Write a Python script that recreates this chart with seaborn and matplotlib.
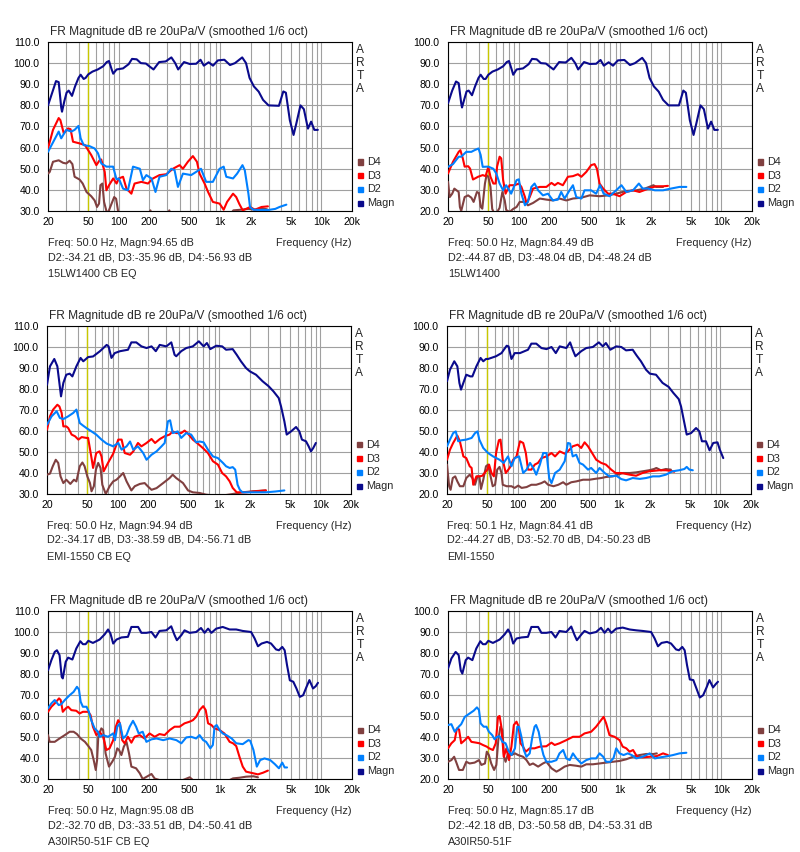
import matplotlib
matplotlib.use('Agg')
import matplotlib.pyplot as plt
from matplotlib.patches import Rectangle
from matplotlib.ticker import NullFormatter
import pandas as pd
import seaborn as sns

# Estilo
sns.set_style('white')
plt.rcParams['font.family'] = ['Liberation Sans', 'DejaVu Sans']

# ---------------- datos: (frecuencia Hz, dB) ----------------
# 15LW1400 CB EQ
lw_eq_magn = [(20, 80), (22, 86), (24, 91.5), (25.5, 91), (27, 79), (27.5, 77), (29, 82), (30.5, 86), (32, 87), (34.5, 84.5),
              (37, 89), (40, 93), (42, 94.5), (45, 92.5), (47, 93), (50, 94.7), (55, 96), (62, 97), (70, 98.5), (76, 100.5),
              (80, 101), (85, 97), (88, 95), (95, 97), (110, 97.5), (125, 99.5), (135, 102), (150, 101.8), (165, 100), (185, 99.8),
              (200, 98.5), (220, 97), (250, 100.5), (290, 100.8), (330, 102.7), (360, 100), (385, 97), (440, 100.5), (500, 99.6),
              (580, 99.7), (640, 101.6), (690, 98.8), (770, 100.4), (850, 98.8), (950, 101.3), (1100, 101.6), (1250, 99.1),
              (1400, 100), (1650, 102.7), (1800, 100), (1950, 93), (2150, 89), (2400, 86.5), (2650, 82.6), (3000, 80), (3800, 79.8),
              (4200, 86.6), (4450, 86), (4870, 73), (5300, 66), (5650, 71.5), (6200, 80), (6700, 78.2), (7350, 69), (7900, 72.3),
              (8500, 68.4), (9200, 68.4)]
lw_eq_d2 = [(20, 58), (25.5, 67.6), (27, 64.4), (30.3, 68.4), (34, 67.6), (36.6, 68.4), (40, 70.3), (42, 64.4), (45, 61.2),
            (51.4, 60.7), (57.7, 59.6), (62.3, 57.3), (67.2, 52.5), (75.4, 51), (87.8, 51), (94.8, 45), (100, 45.4), (110, 40.6),
            (123, 39.8), (138, 51), (161, 50), (173, 44.6), (187, 47), (210, 45.4), (230, 39), (252, 46.2), (294, 47), (329, 50),
            (355, 49.3), (383, 41.4), (429, 47.7), (517, 47), (579, 48.5), (647, 50), (727, 43.8), (847, 43.8), (987, 50),
            (1083, 51), (1150, 46.2), (1340, 45.4), (1470, 47.7), (1660, 51.7), (1750, 49.3), (1900, 38.2), (1970, 31.9),
            (2130, 30.6), (2500, 30.5), (3000, 30.5), (3500, 31), (3850, 31.9), (4500, 33)]
lw_eq_d3 = [(20, 59.6), (22.4, 68.4), (25.5, 74), (26.5, 73), (28.6, 66.8), (31.6, 69.1), (33.4, 68.7), (35.3, 62.8), (41, 62),
            (46.3, 61.2), (49.8, 58.8), (53.4, 56.5), (60, 51.7), (64.6, 54), (67, 54.4), (72.6, 48.5), (75.4, 39.8), (80, 42.2),
            (88, 45.4), (95, 43), (100, 45.4), (110, 46.2), (119, 40.6), (133, 38.2), (143, 43), (167, 43.8), (194, 43),
            (217, 45.4), (252, 47), (294, 47.4), (342, 50), (398, 51.7), (429, 50), (480, 53.3), (538, 56), (590, 53.3),
            (626, 47.7), (702, 43), (760, 39), (847, 34.3), (987, 33.5), (1083, 30.6), (1170, 34.3), (1340, 38.2), (1440, 36.6),
            (1550, 33.2), (1670, 30.3), (1980, 31.9), (2200, 30.6), (2560, 31.9), (2960, 32.2)]
lw_eq_d4 = [(20, 47.7), (20.8, 48.5), (22.4, 53.3), (25.5, 54), (28.2, 52.8), (30.3, 52.5), (32.7, 53.8), (34.8, 52.2),
            (36.6, 46.2), (41, 44.9), (44, 43), (48, 39), (53.4, 37), (57.7, 35), (60.9, 31.9), (63.8, 33.5), (65.8, 42.2),
            (68.8, 43), (71.5, 34.3), (75.4, 30), (78, 29), (84, 33), (90, 36.6), (94, 35.8), (99, 29), (105, 26), (150, 25),
            (195, 28), (205, 30.3), (215, 27), (300, 28), (315, 30.3), (330, 27), (1200, 27), (1350, 30.3), (1600, 30.6),
            (1900, 31), (2200, 30.6), (2600, 31.2), (2900, 30.8)]

# 15LW1400
lw_magn = [(20, 71), (22, 77), (24, 81.3), (25.5, 80.5), (27, 71), (27.5, 69), (29, 73), (30.5, 76.6), (32, 77), (34.5, 74.8),
           (37, 79), (40, 83), (42, 84.5), (45, 82.5), (47, 82.5), (50, 84.5), (55, 86), (62, 87), (70, 88.5), (76, 90.5),
           (80, 91), (85, 87), (88, 84.5), (95, 87), (110, 87.5), (125, 89.5), (135, 92), (150, 91.8), (165, 90), (185, 89.8),
           (200, 88.5), (220, 87), (250, 90.5), (290, 90.3), (330, 92.5), (360, 90), (385, 87), (440, 90.5), (500, 89.6),
           (580, 89.7), (640, 91.5), (690, 88.8), (770, 90.4), (850, 88.8), (950, 91.3), (1100, 91.5), (1250, 89.1), (1400, 90),
           (1650, 92.5), (1800, 90), (1950, 83), (2150, 79), (2400, 76.5), (2650, 72.6), (3000, 70), (3800, 70), (4200, 77),
           (4450, 76), (4870, 63), (5300, 56), (5650, 61.5), (6200, 70), (6700, 68.2), (7350, 59), (7900, 62.3), (8500, 58.4),
           (9200, 58.4)]
lw_d2 = [(20, 40.9), (22.4, 42.2), (25.5, 45.7), (27, 45.7), (30.3, 48), (34, 48), (36.6, 48.8), (40, 49.6), (42, 46.5),
         (44, 40.9), (50, 41), (56, 40), (60, 37.7), (64.6, 33), (70, 29.8), (75, 32.2), (84, 28.2), (95, 34.6), (100, 35),
         (106, 28.2), (115, 22.7), (123, 24.3), (133, 31.4), (143, 33), (155, 29.8), (173, 27.4), (194, 28.2), (217, 25),
         (243, 25.4), (262, 29), (283, 25.9), (317, 29.8), (342, 32.2), (369, 26.6), (414, 25.9), (445, 29.8), (517, 29.8),
         (579, 28.2), (634, 32.2), (687, 28.2), (785, 27), (914, 29.8), (1030, 32.2), (1150, 29), (1340, 29.8), (1530, 33),
         (1670, 30.6), (1900, 30.6), (2200, 29.8), (2650, 29.8), (3160, 30.6), (3850, 31.4), (4500, 31.4)]
lw_d3 = [(20, 37.7), (22.4, 43.3), (25.5, 48), (26.5, 48.8), (28, 44.9), (29.2, 41), (31.6, 41.2), (33, 40.1), (35.3, 34.9),
         (39.6, 36.2), (44, 37), (47, 36.5), (50, 40.9), (52.5, 36.2), (56, 33), (59, 33), (61, 41), (64.6, 45.7), (67, 44.9),
         (70, 34.6), (74, 28.2), (81, 32.2), (91, 32.2), (100, 33), (106, 31.4), (115, 26.6), (119, 23.5), (128, 26.6),
         (138, 30.6), (161, 31.4), (187, 31.4), (210, 33.3), (226, 32.2), (243, 33.3), (272, 32.2), (305, 36.2), (342, 36.5),
         (383, 37.4), (414, 36.2), (463, 38.5), (517, 41.7), (559, 42.2), (590, 40), (626, 33), (680, 30.6), (760, 28.2),
         (847, 28.2), (987, 27), (1150, 29), (1340, 29.8), (1550, 29), (1900, 30.6), (2260, 31.7), (2650, 31.7), (2960, 31.9)]
lw_d4 = [(20, 33.8), (20.8, 26.6), (22, 28.2), (23.1, 30.6), (25.5, 29), (26.2, 21.9), (27, 20), (29.2, 26.6), (31.6, 27.4),
         (34, 26.3), (35.8, 24.3), (38.6, 29), (40.4, 28.5), (42, 22), (43.6, 21.1), (46.3, 33), (48, 37), (50, 36.2),
         (52.5, 31.4), (54.6, 21), (57, 19), (60, 19), (64.6, 21.5), (68.8, 29), (72.6, 25), (75, 20.5), (81, 19.5), (88, 21),
         (95, 21.9), (102, 24.3), (115, 24.3), (123, 22.7), (138, 23.8), (161, 25.9), (187, 25.4), (217, 25), (252, 25.9),
         (294, 25), (342, 25.9), (414, 26.3), (500, 27.4), (626, 27), (760, 27.4), (914, 28.2), (1150, 29.5), (1440, 29.8),
         (1750, 30.6), (2130, 32.2), (2260, 31.4), (2650, 31.4)]

# EMI-1550 CB EQ
emi_eq_magn = [(20, 82), (21.4, 90.8), (23.6, 94.3), (25.3, 90.8), (26.5, 82.9), (27.5, 76.5), (29, 82.9), (31, 86.8),
               (33.5, 87.3), (35.6, 86), (39, 90.8), (42.9, 94.8), (45.6, 93.2), (48.5, 94.3), (50.9, 95.2), (57, 95.5),
               (66.6, 98), (77.6, 101), (81, 100.3), (86.5, 94.8), (93.2, 97.1), (105, 98), (126, 98.7), (136, 102.2),
               (152, 102.2), (171, 100.3), (192, 99.5), (215, 100.3), (237, 98), (259, 101), (301, 100.3), (337, 102.2),
               (363, 96.3), (377, 95.6), (422, 98), (473, 99.5), (550, 100.3), (630, 102.7), (703, 100.3), (757, 101.9),
               (817, 99), (937, 100.6), (1070, 100.3), (1170, 98.7), (1360, 99), (1490, 96.3), (1640, 93.2), (1840, 90),
               (2010, 88.4), (2310, 86.8), (2680, 83.7), (3080, 81.3), (3430, 78.9), (3870, 75.7), (4080, 71.7), (4400, 64.6),
               (4640, 58.3), (5120, 59.8), (5740, 61.9), (6190, 59.8), (6560, 55.9), (7190, 55.1), (7640, 52.7), (8050, 50.3),
               (8480, 51.9), (9000, 54.3)]
emi_eq_d2 = [(20, 63), (22.2, 67), (24.9, 69.4), (26.8, 66.2), (29, 65.7), (32.4, 67), (36.3, 68.6), (39, 70.2), (42.1, 63.8),
             (45.6, 62.5), (49, 61.4), (55, 59.8), (61.2, 58.3), (69, 55.9), (77.6, 54), (90, 52.7), (101, 54.3), (109, 51.1),
             (122, 52.7), (132, 55), (142, 51.1), (158, 52.7), (178, 49.5), (192, 46.3), (215, 48.7), (241, 50.3), (270, 52.7),
             (290, 54.3), (312, 64.6), (328, 65.1), (348, 59), (390, 59.8), (422, 56.7), (473, 59), (529, 58.3), (594, 54.6),
             (640, 55), (703, 54.6), (775, 51.1), (868, 47.9), (972, 47.1), (1090, 44.8), (1170, 43.2), (1270, 42.4),
             (1360, 42.8), (1440, 41.6), (1520, 34.4), (1600, 32), (1700, 30.8), (2150, 30.8), (2890, 30.8), (3600, 31.2),
             (4400, 31.7)]
emi_eq_d3 = [(20, 60.6), (21.4, 67), (23, 70.2), (25.3, 72.5), (26.5, 71.7), (27.9, 68.6), (29, 62.2), (31, 62.2), (32.4, 61.4),
             (35, 58.3), (37.8, 57.5), (40.8, 55.9), (44, 57.1), (49, 56.7), (50.9, 56.7), (55, 47.1), (57, 42.4), (61.2, 49.5),
             (66, 50.3), (69, 47.9), (72.5, 40.8), (80, 44.8), (90, 49.2), (101, 55.9), (109, 55.9), (117, 49.5), (132, 48.7),
             (142, 50.3), (158, 54.3), (171, 52.7), (192, 54.3), (215, 56.2), (233, 54.3), (260, 56.2), (290, 57.5),
             (324, 58.3), (348, 59.8), (377, 59), (422, 59), (456, 60.2), (493, 58.7), (550, 55.9), (615, 54), (690, 51.9),
             (775, 49.5), (868, 45.6), (972, 44), (1070, 40), (1170, 38.4), (1270, 36), (1360, 32.9), (1490, 30.8),
             (1840, 30.8), (2310, 31.3), (2890, 31.7)]
emi_eq_d4 = [(20, 39.2), (21.4, 39.7), (22.8, 43.2), (24.4, 46.3), (25.8, 44.8), (27.2, 38.4), (29, 35.2), (31, 36.8),
             (34, 34.8), (36.9, 36.8), (39, 36), (42.1, 43.2), (44.7, 45), (47, 43.2), (50, 38.4), (53.1, 35.2), (55, 31.3),
             (58, 33.7), (60.8, 41.6), (64, 44.8), (67.5, 42.4), (70.3, 34.4), (76, 30), (83, 33.7), (90, 36), (97, 36.8),
             (105, 38.4), (113, 40), (122, 36), (136, 31.7), (147, 33.7), (165, 34.8), (184, 35.2), (199, 33.5), (215, 32),
             (241, 32.8), (280, 35.2), (324, 37.6), (348, 39.2), (377, 37.6), (440, 35.2), (493, 31.7), (550, 30.8),
             (640, 30.5), (740, 29.7), (1000, 29), (1360, 30), (1700, 30.8), (2150, 31.3), (2890, 31.7)]

# EMI-1550
emi_magn = [(20, 73.7), (21.4, 79.2), (23.6, 83.2), (25.3, 80.8), (26.5, 72.9), (27.5, 69.7), (29, 72.9), (31, 76.8), (34, 76),
            (35.6, 76), (39, 80.8), (42.9, 84.8), (45.6, 83.2), (48.5, 84.3), (50.9, 84.3), (61, 85.6), (69, 87.1), (77.6, 90.6),
            (81, 90.3), (86.5, 84.3), (93.2, 87.1), (105, 87.1), (126, 88.7), (136, 91.6), (152, 91.6), (171, 89.5), (192, 89),
            (215, 90), (237, 87.1), (259, 90.3), (301, 89.5), (328, 92.2), (348, 88.7), (370, 85.6), (422, 88), (473, 89.5),
            (550, 90), (630, 92.2), (690, 90.3), (740, 91.9), (817, 88.7), (937, 90.3), (1050, 90), (1170, 88.4), (1360, 88.7),
            (1490, 85.9), (1640, 83.2), (1840, 79.2), (2010, 77.3), (2310, 76.8), (2680, 72.9), (3080, 71), (3430, 68.1),
            (3870, 65.2), (4080, 61.7), (4400, 53.8), (4640, 48.3), (5120, 49), (5740, 51.4), (6190, 49.8), (6560, 45.1),
            (7190, 45.1), (7800, 40.8), (8480, 44.3), (9340, 44.6), (9850, 41.1), (10650, 37.1)]
emi_d2 = [(20, 42.7), (21.4, 45.9), (23, 49), (24.4, 49.8), (25.8, 45.1), (27.9, 45.6), (31, 45.9), (35, 46.7), (37.8, 49),
          (40, 49.8), (41.7, 45.9), (45.6, 41.9), (50.9, 39.5), (57, 37.9), (66, 36.3), (72.5, 34.8), (80, 37.9), (86.5, 33.2),
          (93, 37.1), (103, 37.9), (113, 30), (122, 31.6), (132, 34.8), (142, 32.4), (152, 29.2), (165, 34), (178, 39.5),
          (192, 39.5), (204, 27.6), (215, 25.2), (233, 30), (259, 31.6), (290, 35.6), (312, 44.3), (328, 44), (348, 37.9),
          (377, 38.7), (406, 34.8), (440, 34), (493, 31.6), (529, 32.4), (594, 30), (640, 32.4), (720, 30), (800, 28.4),
          (937, 28.7), (1050, 27.1), (1170, 26.5), (1360, 27.6), (1600, 27.2), (1840, 27.6), (2150, 28.4), (2490, 28.4),
          (2890, 29.2), (3360, 30.8), (3900, 31.3), (4400, 31.9), (4640, 32.9), (4930, 31.6), (5330, 31.3)]
emi_d3 = [(20, 36.3), (21.4, 41.1), (23, 44.3), (25.3, 47.8), (26.8, 45.1), (29, 37.9), (31, 37.1), (33.5, 33.2), (35, 32.4),
          (36.3, 24.4), (39, 28.4), (42.1, 28.4), (44.7, 28.7), (47, 30), (50, 31.6), (52, 34), (55, 30), (58, 28.4), (61, 39.5),
          (65, 45.6), (67.5, 45.9), (71, 36.3), (76, 30), (83, 32.4), (90, 36.3), (97, 37.9), (105, 45.1), (113, 44.3),
          (120, 39.5), (126, 31.6), (136, 31.6), (147, 34), (158, 34.8), (171, 37.1), (192, 37.9), (215, 39.5), (233, 37.9),
          (259, 40.3), (290, 39.2), (312, 40.3), (348, 42.7), (390, 43.5), (422, 41.9), (456, 44.6), (493, 42.7), (529, 40.3),
          (594, 36.3), (665, 34.8), (740, 34), (835, 31.6), (922, 30), (1050, 30), (1270, 29.2), (1470, 28.7), (1700, 30),
          (1970, 30.8), (2490, 31.3), (2890, 31.3), (3240, 31), (3500, 30.6)]
emi_d4 = [(20, 34), (21, 23.7), (21.7, 22), (22.8, 27.6), (24.1, 28.4), (25.3, 26), (26.8, 23.7), (29, 23.7), (31, 27.6),
          (33.5, 29.2), (35.6, 27.6), (37.8, 24.4), (40, 28.4), (41.7, 28.4), (43.3, 22.4), (45.6, 26.8), (48.5, 33.2),
          (50.9, 34), (53, 30), (56.5, 23.7), (59.6, 24.4), (62.6, 31.6), (66, 32.9), (69, 30), (71, 24.4), (77.6, 23.7),
          (86.5, 23.7), (93, 22.9), (101, 24), (109, 22.9), (122, 23.3), (136, 24.4), (152, 24.4), (171, 25.2), (184, 26),
          (199, 24.4), (225, 23.7), (251, 24.4), (280, 25.6), (301, 24.4), (337, 25.6), (377, 26), (440, 26.8), (510, 26.8),
          (594, 27.3), (665, 27.6), (740, 28.1), (868, 28.4), (972, 29.2), (1090, 30), (1270, 30), (1470, 30.3), (1700, 30.8),
          (1970, 31.3), (2210, 31.9), (2330, 32.4), (2580, 31.3), (2890, 31.9), (3240, 31.6)]

# A30IR50-51F CB EQ
a30_eq_magn = [(20, 81.8), (21.6, 86.6), (23.3, 90.5), (24.5, 91.3), (26, 89), (27.3, 78.7), (28, 77.9), (29.9, 85.8),
               (31.6, 87.8), (34.8, 86.9), (38, 92.1), (41.7, 95.6), (44.2, 94.2), (47, 94.2), (50, 95.8), (55.5, 94.8),
               (64.6, 96.4), (72.6, 98.9), (78.3, 101.2), (82.6, 99.3), (88, 94.5), (94.8, 96.4), (106, 97.4), (123, 97.7),
               (133, 102.4), (155, 102.4), (167, 99.6), (187, 99.6), (210, 100), (230, 97.4), (252, 100.5), (294, 100.8),
               (329, 102.7), (355, 98.5), (374, 96.1), (414, 98.5), (445, 100.8), (500, 99.6), (579, 100), (647, 101.9),
               (702, 99.6), (760, 101.6), (820, 99.6), (914, 101.6), (1060, 102.4), (1240, 101.2), (1440, 101.2),
               (1670, 100.5), (2020, 100), (2190, 96.9), (2360, 93.2), (2560, 94.5), (2900, 95.3), (3180, 94.5), (3560, 91.7),
               (3800, 91.3), (4100, 92.9), (4330, 91.3), (4570, 84.2), (4870, 77), (5270, 76.3), (5660, 73.1), (6110, 69.1),
               (6590, 69.9), (7120, 73.9), (7600, 77.1), (8250, 73.1), (8780, 74.2), (9230, 75.8)]
a30_eq_d2 = [(20, 63.6), (21.6, 66), (23.3, 67.6), (25.5, 65.2), (27, 65.6), (29.3, 67.6), (32.7, 69.9), (35.8, 71.5),
             (38.6, 73.9), (40.4, 72.6), (42, 66.8), (44.2, 64.4), (48, 64.4), (50.6, 62), (53.4, 58), (57.7, 54.1), (62.3, 52.5),
             (64.6, 50.1), (70, 50.9), (78.3, 50.1), (88, 51.7), (91.6, 48.5), (96.5, 54.9), (102.5, 56.5), (110, 49.3),
             (119, 50.9), (128, 54.9), (138, 57.7), (148, 54.9), (157, 51.7), (172, 52.5), (187, 47.7), (210, 48.9),
             (235, 49.3), (274, 48.5), (318, 49.3), (370, 48.5), (414, 47), (463, 49.8), (517, 50.1), (579, 49.3), (626, 50.9),
             (680, 48.5), (727, 47.7), (800, 44.6), (847, 46.2), (880, 54.9), (923, 55.7), (987, 53.3), (1060, 51.7),
             (1150, 50.9), (1300, 49.3), (1440, 47), (1670, 46.6), (1900, 48.5), (1980, 48.2), (2130, 43.8), (2300, 35.9),
             (2480, 39), (2740, 39.8), (3120, 39), (3460, 37.1), (3800, 35.1), (4100, 37.8), (4330, 35.5), (4570, 35.5)]
a30_eq_d3 = [(20, 62), (21.6, 64.4), (23.3, 66), (25.7, 68.4), (26.7, 67.6), (28, 62), (29.9, 63.6), (31.6, 64.4), (34, 62.8),
             (38, 62.5), (41, 61.2), (44.2, 62), (50, 62), (52.6, 60.4), (55.5, 54.9), (60, 50.9), (64.6, 52.5), (70, 50.1),
             (75.4, 43.8), (81, 44.6), (88, 48.5), (93.4, 54.9), (98.5, 58), (102.5, 56.5), (108, 48.5), (114, 47), (123, 50.1),
             (133, 47.3), (143, 50.1), (161, 50.9), (179, 49.3), (201, 51.7), (226, 50.1), (252, 51.4), (283, 50.9),
             (318, 53.3), (355, 54.9), (398, 54.9), (445, 56.5), (500, 57.3), (538, 58), (579, 59.6), (626, 62.8), (680, 64.7),
             (720, 62.8), (760, 56.5), (820, 55.7), (880, 54.1), (987, 53.3), (1100, 51.7), (1240, 47.7), (1340, 47),
             (1440, 45.7), (1550, 40.6), (1670, 35.9), (1800, 33.5), (2130, 32.7), (2360, 32.2), (2650, 33), (2960, 34)]
a30_eq_d4 = [(20, 50.9), (20.8, 47.7), (23.3, 47.7), (26, 49.3), (29.3, 50.9), (32.7, 52.5), (35.8, 52.5), (38.6, 51.4),
             (42, 49.3), (46.3, 47.7), (50, 45.7), (53.4, 43.8), (56.5, 39), (59.2, 34.3), (61, 39), (62.7, 50.1), (67.2, 54.1),
             (70, 53.3), (74, 42.2), (80, 35.9), (86, 38.2), (91.6, 40.6), (96.5, 44.6), (100.5, 43.8), (106, 41.4),
             (112, 45.4), (119, 47.7), (126, 42.2), (133, 35.9), (148, 35.1), (161, 32.7), (172, 30), (187, 31), (210, 32.4),
             (226, 30.2), (252, 29.5), (429, 29.5), (500, 30.8), (538, 29.5), (1240, 29.5), (1340, 30.3), (1550, 30.6),
             (1800, 31.1), (2130, 31.3), (2360, 30.8)]

# A30IR50-51F
a30_magn = [(20, 72.6), (21.6, 77.4), (23.8, 80.5), (25.5, 79), (26.7, 71.8), (27.7, 70.2), (29.9, 76.6), (31.6, 77.8),
            (34.8, 76.6), (38, 82.1), (41.7, 85.6), (44.2, 84.2), (47, 84.2), (50, 85.8), (55.5, 84.8), (64.6, 86.4),
            (72.6, 88.9), (78.3, 91.2), (82.6, 89.3), (88, 84.5), (94.8, 86.9), (106, 87.4), (123, 87.7), (133, 92.4),
            (155, 92.4), (167, 89.6), (187, 89.6), (210, 90), (230, 87.4), (252, 90.5), (294, 90), (329, 92.6), (355, 88.5),
            (374, 86.1), (414, 88.8), (445, 90.5), (500, 89.3), (579, 90), (647, 92), (702, 89.6), (760, 91.6), (820, 89.6),
            (914, 91.6), (1060, 92.1), (1240, 91.2), (1440, 90.8), (1670, 90.5), (2020, 90), (2190, 86.9), (2360, 83.2),
            (2560, 84.8), (2900, 85.3), (3180, 84.5), (3560, 81.7), (3800, 81.3), (4100, 82.9), (4330, 81.3), (4570, 74.2),
            (4870, 67.4), (5270, 67.1), (5660, 63.1), (6110, 58.8), (6590, 59.9), (7120, 63.6), (7600, 67.1), (8250, 63.6),
            (8780, 65.2), (9230, 66.3)]
a30_d2 = [(20, 45.7), (21.6, 46.1), (23.3, 42.5), (25.5, 44.9), (27, 46.1), (29.3, 49.6), (32.7, 51.2), (35.8, 52.5),
          (38.6, 54.1), (40.4, 52.9), (42, 46.5), (45, 44.9), (48, 44.9), (50.6, 42.5), (54.6, 40.9), (57.7, 38.9), (60.9, 40.1),
          (64.6, 40.4), (68.8, 37.7), (74, 37), (78.3, 33.8), (84.5, 31.4), (91.6, 34.6), (96.5, 44.9), (100.5, 44.9),
          (106, 40.1), (112, 33.8), (119, 30.6), (128, 32.2), (136, 40.1), (143, 44.9), (148, 45.7), (157, 42.5), (167, 35.4),
          (175, 31.4), (187, 28.2), (210, 28.2), (235, 29), (252, 32.2), (274, 33.8), (294, 29.8), (318, 29), (342, 32.2),
          (370, 29.8), (414, 27.4), (463, 29), (517, 29.8), (579, 29.8), (626, 32.2), (680, 30.6), (727, 28.2), (800, 28.2),
          (860, 30), (914, 34.6), (987, 32.2), (1080, 31.4), (1190, 32.2), (1300, 31.4), (1440, 29.8), (1670, 30.6),
          (1960, 32.2), (2200, 29.8), (2480, 30.3), (2900, 30.8), (3320, 31.4), (3850, 32.2), (4500, 32.5)]
a30_d3 = [(20, 34.6), (21.6, 37), (23.3, 38.5), (24.5, 44.1), (25.7, 43.6), (27, 37), (29.3, 38.5), (31.6, 40.1), (34, 37.7),
          (38, 37.3), (41, 37), (44.2, 36.2), (48.3, 35.4), (51, 34.6), (55.5, 33.8), (59.2, 37), (62.3, 49.6), (64.6, 50),
          (67.2, 44.9), (71, 30.6), (75.4, 34.6), (80, 29), (84.5, 35.4), (89.2, 45.7), (94.8, 47.3), (99.5, 45), (104, 37),
          (110, 35.4), (117, 33), (128, 34.6), (143, 34.6), (161, 35.4), (187, 35.6), (210, 37.3), (226, 36.2), (252, 37),
          (294, 38.5), (342, 40.1), (398, 40.1), (445, 41.7), (517, 42.5), (579, 44.9), (647, 48), (687, 49.6), (727, 46.5),
          (785, 40.9), (880, 40.1), (987, 38.5), (1060, 35.4), (1150, 34.6), (1240, 33), (1340, 33.8), (1470, 30.6),
          (1670, 30.3), (1960, 30.6), (2300, 30.9), (2650, 32.2), (2960, 31.4)]
a30_d4 = [(20, 28.2), (21.6, 29), (23, 30.6), (24.2, 27.8), (25.7, 24.3), (28, 24.3), (30.3, 28.2), (32.7, 27.4), (36.6, 27.8),
          (40.4, 29), (42.7, 26.7), (46.3, 27.4), (48.3, 33), (50.6, 31.4), (53.4, 27.4), (57, 24.3), (60, 26.7), (62.7, 38.5),
          (65.8, 44.9), (68.8, 43.3), (71.5, 30.6), (74, 28.2), (78.3, 32.2), (84.5, 31.4), (91.6, 32.2), (98.5, 31.4),
          (110, 30.6), (119, 29), (128, 26.7), (138, 27.4), (155, 25.9), (173, 27.4), (187, 28.2), (210, 25.1), (235, 23.5),
          (252, 24.3), (283, 25.9), (318, 26.7), (370, 26.3), (414, 25.9), (463, 27), (538, 27), (626, 27.4), (727, 27.8),
          (847, 28.2), (987, 28.6), (1150, 29.4), (1340, 30.6), (1550, 31.4), (1800, 31.9), (2130, 31.9), (2300, 32.2)]

# textos de cada panel
panel_names = ['15LW1400 CB EQ', '15LW1400', 'EMI-1550 CB EQ', 'EMI-1550', 'A30IR50-51F CB EQ', 'A30IR50-51F']
cursor_texts = ['Freq: 50.0 Hz, Magn:94.65 dB', 'Freq: 50.0 Hz, Magn:84.49 dB', 'Freq: 50.0 Hz, Magn:94.94 dB',
                'Freq: 50.1 Hz, Magn:84.41 dB', 'Freq: 50.0 Hz, Magn:95.08 dB', 'Freq: 50.0 Hz, Magn:85.17 dB']
dist_texts = ['D2:-34.21 dB, D3:-35.96 dB, D4:-56.93 dB', 'D2:-44.87 dB, D3:-48.04 dB, D4:-48.24 dB',
              'D2:-34.17 dB, D3:-38.59 dB, D4:-56.71 dB', 'D2:-44.27 dB, D3:-52.70 dB, D4:-50.23 dB',
              'D2:-32.70 dB, D3:-33.51 dB, D4:-50.41 dB', 'D2:-42.18 dB, D3:-50.58 dB, D4:-53.31 dB']
y_floors = [30, 20, 30, 20, 30, 20]
panel_series = [
    {'D4': lw_eq_d4, 'D3': lw_eq_d3, 'D2': lw_eq_d2, 'Magn': lw_eq_magn},
    {'D4': lw_d4, 'D3': lw_d3, 'D2': lw_d2, 'Magn': lw_magn},
    {'D4': emi_eq_d4, 'D3': emi_eq_d3, 'D2': emi_eq_d2, 'Magn': emi_eq_magn},
    {'D4': emi_d4, 'D3': emi_d3, 'D2': emi_d2, 'Magn': emi_magn},
    {'D4': a30_eq_d4, 'D3': a30_eq_d3, 'D2': a30_eq_d2, 'Magn': a30_eq_magn},
    {'D4': a30_d4, 'D3': a30_d3, 'D2': a30_d2, 'Magn': a30_magn},
]
title = 'FR Magnitude dB re 20uPa/V (smoothed 1/6 oct)'
x_ticks = [20, 50, 100, 200, 500, 1000, 2000, 5000, 10000, 20000]
x_labels = ['20', '50', '100', '200', '500', '1k', '2k', '5k', '10k', '20k']

# ---------------- estilo / layout ----------------
colors = {'D4': '#804040', 'D3': '#ff0000', 'D2': '#0080ff', 'Magn': '#0a0a8c'}
W, H = 800, 852
AX_W = 304
row_tops = [42, 326, 611]
row_heights = [169, 168, 168]
row_lefts = [48, 47, 48]
col_offsets = [0, 400]
grid_f = [k * 10 ** e for e in range(1, 5) for k in range(1, 10) if 20 <= k * 10 ** e <= 20000]


def fx(x):
    return x / W


def fy(y):
    return 1 - y / H


fig = plt.figure(figsize=(8, 8.52), dpi=100)
fig.patch.set_facecolor('white')


def draw_panel(i):
    row, col = divmod(i, 2)
    left = row_lefts[row] + col_offsets[col]
    top = row_tops[row]
    h = row_heights[row]
    bottom = top + h
    right = left + AX_W
    ax = fig.add_axes([fx(left), fy(bottom), AX_W / W, h / H])

    for name in ['D4', 'D3', 'D2', 'Magn']:
        df = pd.DataFrame(panel_series[i][name], columns=['freq', 'db'])
        sns.lineplot(data=df, x='freq', y='db', ax=ax, color=colors[name], linewidth=1.5,
                     estimator=None, sort=False, zorder=3)

    ax.axvline(50, color='#c8c800', linewidth=1, zorder=2)

    lo = y_floors[i]
    ax.set_xscale('log')
    ax.set_xlim(20, 20000)
    ax.set_ylim(lo, lo + 80)
    ax.set_xticks(x_ticks)
    ax.set_xticklabels(x_labels)
    ax.set_xticks(grid_f, minor=True)
    ax.xaxis.set_minor_formatter(NullFormatter())
    yt = list(range(lo, lo + 81, 10))
    ax.set_yticks(yt)
    ax.set_yticklabels([f'{v:.1f}' for v in yt])
    ax.set_xlabel('')
    ax.set_ylabel('')
    ax.set_axisbelow(True)
    ax.grid(which='both', axis='x', color='#a0a0a0', linewidth=0.8)
    ax.grid(which='major', axis='y', color='#a0a0a0', linewidth=0.8)
    ax.tick_params(which='both', length=0, labelsize=7.6, colors='black')
    ax.tick_params(axis='y', pad=6)
    ax.tick_params(axis='x', pad=4)
    for sp in ax.spines.values():
        sp.set_color('black')
        sp.set_linewidth(0.8)

    # textos
    fig.text(fx(left + 2), fy(top - 10), title, ha='left', va='center', fontsize=8.6)
    fig.text(fx(left), fy(bottom + 32), cursor_texts[i], ha='left', va='center', fontsize=7.8)
    fig.text(fx(right), fy(bottom + 32), 'Frequency (Hz)', ha='right', va='center', fontsize=7.8)
    fig.text(fx(left), fy(bottom + 46), dist_texts[i], ha='left', va='center', fontsize=7.8)
    fig.text(fx(left), fy(bottom + 63), panel_names[i], ha='left', va='center', fontsize=7.8)
    for k, ch in enumerate('ARTA'):
        fig.text(fx(right + 8), fy(top + 8 + 13 * k), ch, ha='center', va='center', fontsize=8.6)

    # leyenda
    for k, name in enumerate(['D4', 'D3', 'D2', 'Magn']):
        yc = bottom - 49 + 13.7 * k
        fig.patches.append(Rectangle((fx(right + 6), fy(yc + 2.5)), 5 / W, 5 / H,
                                     transform=fig.transFigure, color=colors[name]))
        fig.text(fx(right + 15), fy(yc), name, ha='left', va='center', fontsize=7.8)


for i in range(6):
    draw_panel(i)

fig.savefig('out.png', dpi=100, facecolor='white')
